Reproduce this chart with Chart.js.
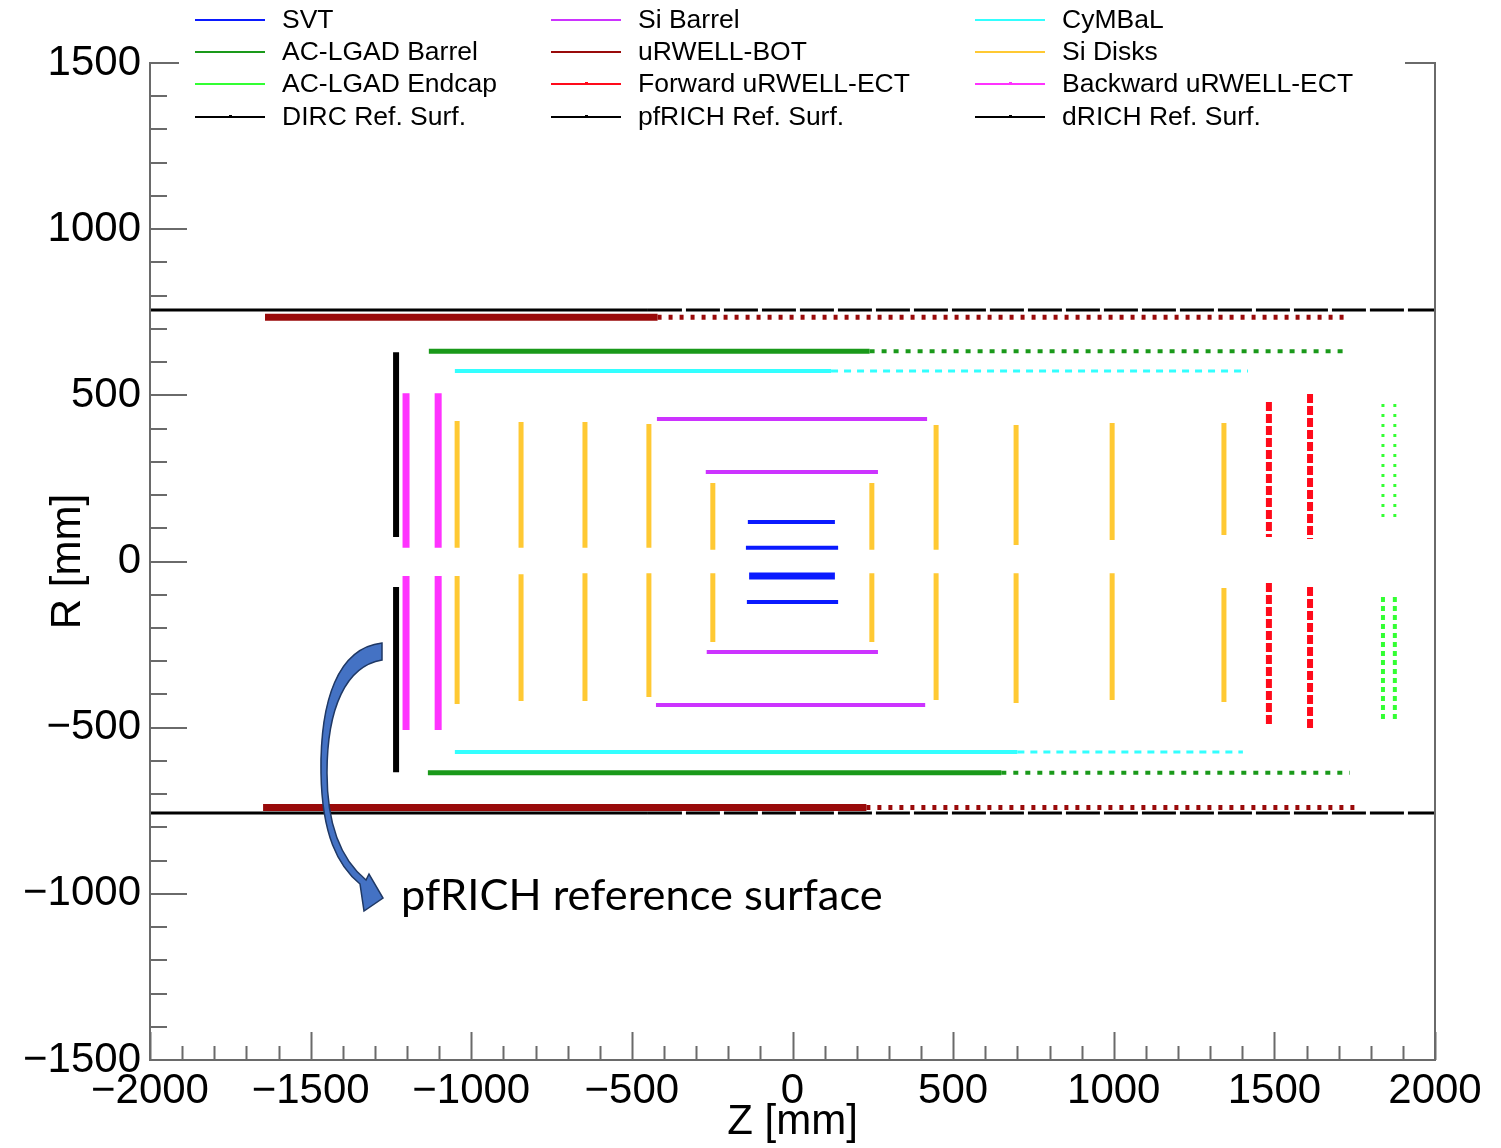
<!DOCTYPE html>
<html>
<head>
<meta charset="utf-8">
<script src="https://cdn.jsdelivr.net/npm/chart.js"></script>
<style>
  html, body { margin: 0; padding: 0; background: #fff; }
  #wrap { width: 1501px; height: 1148px; }
</style>
</head>
<body>
<div id="wrap"><canvas id="chart"></canvas></div>
<script>
// barrel layers: [R, zStart, zEnd] in mm
const svtLayers = [[119, -139, 132], [41, -145, 142], [-122, -142, 142]];
const svtThickLayers = [[-44, -135, 132]];
const siBarrelLayers = [[429, -422, 419], [269, -270, 266], [-272, -267, 266], [-432, -425, 413]];
const cymbalDense = [[573, -1051, 120], [-573, -1051, 700]];
const cymbalSparse = [[573, 120, 1418], [-573, 700, 1402]];
const acLgadBarrelDense = [[633, -1132, 240], [-636, -1135, 650]];
const acLgadBarrelSparse = [[633, 240, 1729], [-636, 650, 1735]];
const urwellBotDense = [[735, -1642, -420], [-740, -1648, 230]];
const urwellBotSparse = [[735, -420, 1720], [-740, 230, 1751]];
const dircDense = [[757, -2000, -450], [-757, -2000, -450]];
const dircSparse = [[757, -450, 2000], [-757, -450, 2000]];

// disk / endcap segments: [Z, rFrom, rTo] in mm
const siDiskSegments = [
  [-1044, 423, 41], [-1044, -44, -429],
  [-845, 420, 41], [-845, -38, -420],
  [-646, 420, 41], [-646, -35, -420],
  [-447, 414, 41], [-447, -35, -408],
  [-248, 236, 35], [-248, -35, -242],
  [247, 236, 35], [247, -35, -242],
  [447, 411, 35], [447, -35, -417],
  [696, 411, 50], [696, -35, -426],
  [995, 417, 65], [995, -35, -417],
  [1343, 417, 80], [1343, -80, -423]
];
const fwdUrwellSegments = [[1483, 480, 74], [1483, -65, -492], [1611, 504, 68], [1611, -77, -501]];
const bwdUrwellSegments = [[-1203, 506, 41], [-1203, -44, -507], [-1103, 506, 41], [-1103, -44, -507]];
const pfrichSegments = [[-1234, 630, 74], [-1234, -77, -634]];
const acLgadEndcapTop = [[1838, 474, 122], [1875, 474, 122]];
const acLgadEndcapBottom = [[1838, -107, -483], [1875, -107, -483]];
const drichSegments = [];

const legendColumns = [
  ['SVT', 'AC-LGAD Barrel', 'AC-LGAD Endcap', 'DIRC Ref. Surf.'],
  ['Si Barrel', 'uRWELL-BOT', 'Forward uRWELL-ECT', 'pfRICH Ref. Surf.'],
  ['CyMBaL', 'Si Disks', 'Backward uRWELL-ECT', 'dRICH Ref. Surf.']
];
const annotationText = 'pfRICH reference surface';

const colors = {
  'SVT': '#0a1aff',
  'Si Barrel': '#cc33ff',
  'CyMBaL': '#33ffff',
  'AC-LGAD Barrel': '#1a991a',
  'uRWELL-BOT': '#990a0a',
  'Si Disks': '#ffc933',
  'AC-LGAD Endcap': '#33ff33',
  'Forward uRWELL-ECT': '#ff0a1a',
  'Backward uRWELL-ECT': '#ff33ff',
  'DIRC Ref. Surf.': '#000000',
  'pfRICH Ref. Surf.': '#000000',
  'dRICH Ref. Surf.': '#000000'
};
const dotted = ['DIRC Ref. Surf.', 'Forward uRWELL-ECT', 'Backward uRWELL-ECT', 'pfRICH Ref. Surf.', 'dRICH Ref. Surf.'];

// turn segments into one point list, broken by null points
function hLines(layers) {
  const pts = [];
  layers.forEach(([r, z0, z1]) => pts.push({x: z0, y: r}, {x: z1, y: r}, {x: z1, y: null}));
  return pts;
}
function vLines(segs) {
  const pts = [];
  segs.forEach(([z, r0, r1]) => pts.push({x: z, y: r0}, {x: z, y: r1}, {x: z, y: null}));
  return pts;
}
function ds(label, data, width, dash) {
  return {
    label: label,
    data: data,
    borderColor: colors[label],
    backgroundColor: colors[label],
    borderWidth: width,
    borderDash: dash || [],
    borderCapStyle: 'butt',
    pointRadius: 0,
    pointHoverRadius: 0,
    spanGaps: false,
    fill: false,
    tension: 0
  };
}

const datasets = [
  ds('DIRC Ref. Surf.', hLines(dircDense), 3),
  ds('DIRC Ref. Surf.', hLines(dircSparse), 3, [34, 4]),
  ds('uRWELL-BOT', hLines(urwellBotDense), 7),
  ds('uRWELL-BOT', hLines(urwellBotSparse), 5, [4, 7]),
  ds('AC-LGAD Barrel', hLines(acLgadBarrelDense), 5),
  ds('AC-LGAD Barrel', hLines(acLgadBarrelSparse), 4, [5, 7]),
  ds('CyMBaL', hLines(cymbalDense), 4),
  ds('CyMBaL', hLines(cymbalSparse), 3, [7, 6]),
  ds('Si Barrel', hLines(siBarrelLayers), 4),
  ds('SVT', hLines(svtLayers), 4),
  ds('SVT', hLines(svtThickLayers), 7),
  ds('Si Disks', vLines(siDiskSegments), 5),
  ds('Forward uRWELL-ECT', vLines(fwdUrwellSegments), 6, [9, 3]),
  ds('Backward uRWELL-ECT', vLines(bwdUrwellSegments), 7),
  ds('pfRICH Ref. Surf.', vLines(pfrichSegments), 6),
  ds('AC-LGAD Endcap', vLines(acLgadEndcapTop), 3, [3, 7]),
  ds('AC-LGAD Endcap', vLines(acLgadEndcapBottom), 4, [5, 4]),
  ds('dRICH Ref. Surf.', vLines(drichSegments), 3)
];

const minus = v => String(v).replace('-', '\u2212');

// ROOT-like frame, inner ticks, legend box and the arrow note
const rootDecor = {
  id: 'rootDecor',
  afterDatasetsDraw(chart) {
    const {ctx, chartArea: a, scales: {x, y}} = chart;
    ctx.save();
    ctx.strokeStyle = '#6a6a6a';
    ctx.lineWidth = 2;
    ctx.strokeRect(a.left, a.top, a.right - a.left, a.bottom - a.top);
    ctx.beginPath();
    for (let v = -2000; v <= 2000; v += 100) {
      const px = Math.round(x.getPixelForValue(v)) + 0.5;
      const len = v % 500 === 0 ? 28 : 14;
      ctx.moveTo(px, a.bottom);
      ctx.lineTo(px, a.bottom - len);
    }
    ctx.stroke();
    ctx.beginPath();
    for (let v = -1500; v <= 1500; v += 100) {
      const py = Math.round(y.getPixelForValue(v));
      const len = v % 500 === 0 ? 37 : 17;
      ctx.moveTo(a.left, py);
      ctx.lineTo(a.left + len, py);
    }
    ctx.stroke();

    // legend
    ctx.fillStyle = '#fff';
    ctx.fillRect(179, 0, 1405 - 179, 136);
    const colX = [195, 551, 975];
    const rowY = [20, 52, 84, 117];
    ctx.font = '26.5px "Liberation Sans", Arial, sans-serif';
    ctx.textBaseline = 'middle';
    ctx.textAlign = 'left';
    legendColumns.forEach((col, i) => {
      col.forEach((name, j) => {
        const x0 = colX[i], yy = rowY[j];
        ctx.strokeStyle = colors[name];
        ctx.lineWidth = 2;
        ctx.beginPath();
        ctx.moveTo(x0, yy);
        ctx.lineTo(x0 + 70, yy);
        ctx.stroke();
        if (dotted.includes(name)) {
          ctx.fillStyle = colors[name];
          ctx.fillRect(x0 + 34, yy - 2, 3, 3);
        }
        ctx.fillStyle = '#000';
        ctx.fillText(name, x0 + 87, yy + 1);
      });
    });

    // curved arrow pointing at the pfRICH surface
    ctx.beginPath();
    ctx.moveTo(382, 643);
    ctx.bezierCurveTo(338, 648, 320, 700, 321, 773);
    ctx.bezierCurveTo(322, 835, 338, 866, 360, 884);
    ctx.lineTo(364, 911);
    ctx.lineTo(383, 898);
    ctx.lineTo(369, 874);
    ctx.lineTo(366, 880);
    ctx.bezierCurveTo(344, 862, 327, 830, 327, 773);
    ctx.bezierCurveTo(327, 708, 346, 666, 382, 660);
    ctx.closePath();
    ctx.fillStyle = '#4472c4';
    ctx.fill();
    ctx.strokeStyle = '#1f3864';
    ctx.lineWidth = 1.5;
    ctx.stroke();

    ctx.font = '40px Lato, "Noto Sans", sans-serif';
    const w = ctx.measureText(annotationText).width;
    ctx.font = (40 * 482 / w).toFixed(1) + 'px Lato, "Noto Sans", sans-serif';
    ctx.fillStyle = '#000';
    ctx.textBaseline = 'middle';
    ctx.fillText(annotationText, 401, 896);
    ctx.restore();
  }
};

const tickFont = {family: '"Liberation Sans", Arial, sans-serif', size: 42};

new Chart(document.getElementById('chart'), {
  type: 'line',
  data: {datasets: datasets},
  options: {
    responsive: true,
    maintainAspectRatio: false,
    animation: false,
    layout: {padding: {top: 63, right: 66, left: 0, bottom: 0}},
    plugins: {legend: {display: false}, tooltip: {enabled: false}},
    scales: {
      x: {
        type: 'linear',
        min: -2000,
        max: 2000,
        grid: {display: false},
        border: {display: false},
        ticks: {stepSize: 500, autoSkip: false, maxRotation: 0, padding: -2, color: '#000', font: tickFont, callback: minus},
        title: {display: true, text: 'Z [mm]', color: '#000', font: tickFont, padding: 0},
        afterFit: s => { s.height = 88; }
      },
      y: {
        type: 'linear',
        min: -1500,
        max: 1500,
        grid: {display: false},
        border: {display: false},
        ticks: {stepSize: 500, autoSkip: false, padding: 1, color: '#000', font: tickFont, callback: minus},
        title: {display: true, text: 'R [mm]', color: '#000', font: tickFont, padding: {top: 43, bottom: 0}},
        afterFit: s => { s.width = 150; }
      }
    }
  },
  plugins: [rootDecor]
});
</script>
</body>
</html>
